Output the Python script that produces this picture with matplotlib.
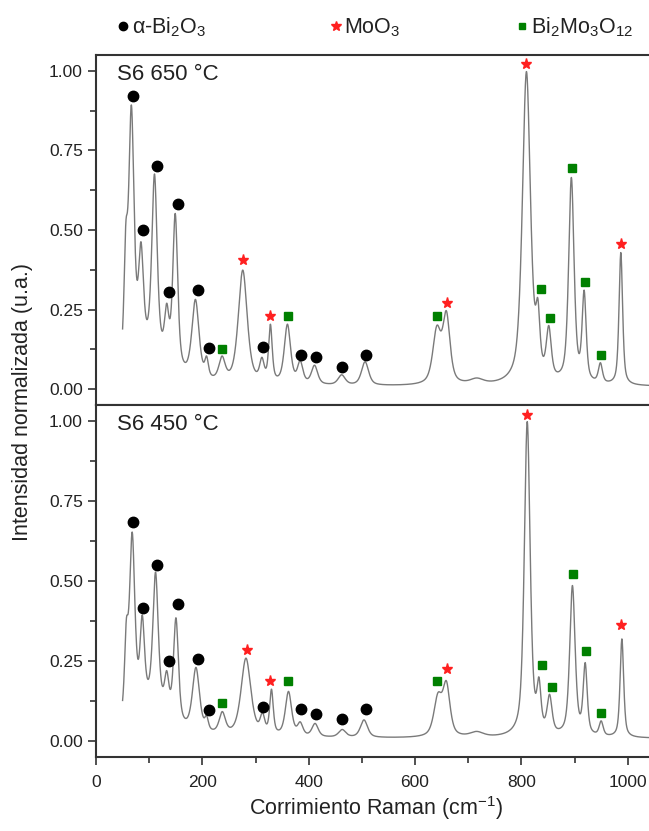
import numpy as np
import matplotlib
matplotlib.use("Agg")
import matplotlib.pyplot as plt
from matplotlib.lines import Line2D
from matplotlib.ticker import MultipleLocator

plt.rcParams['font.family'] = ['Liberation Sans', 'DejaVu Sans']
plt.rcParams['mathtext.fontset'] = 'custom'
plt.rcParams['mathtext.rm'] = 'Liberation Sans'
plt.rcParams['mathtext.it'] = 'Liberation Sans:italic'
plt.rcParams['mathtext.bf'] = 'Liberation Sans:bold'

# ---------------- data ----------------
panel_labels = ["S6 650 °C", "S6 450 °C"]

# Raman bands: centre (cm-1), observed height (normalised), half width (cm-1)
centers_650 = [56, 66.5, 84.6, 100, 110, 133, 149, 187, 208, 237, 276, 312, 328, 360, 384,
               411, 462, 506, 641, 659, 716, 809.5, 831, 851.5, 894, 918, 948.6, 987]
heights_650 = [0.52, 0.893, 0.463, 0.26, 0.676, 0.27, 0.552, 0.282, 0.104, 0.104, 0.374, 0.10,
               0.204, 0.204, 0.09, 0.075, 0.045, 0.086, 0.20, 0.246, 0.035, 0.998, 0.285,
               0.20, 0.665, 0.311, 0.083, 0.429]
widths_650 = [4.0, 6.0, 5.5, 40, 6.0, 5.0, 5.5, 8.0, 4.0, 7.0, 10, 5.0, 4.0, 7.0, 6.0,
              7.0, 8.0, 8.0, 9.0, 8.0, 15, 9.0, 4.5, 5.5, 6.0, 4.5, 4.5, 4.0]

centers_450 = [57, 68, 87, 100, 112, 133, 150.4, 188, 208, 237.5, 282, 313, 330, 362, 384,
               412, 463, 504, 643, 659, 716, 811, 833, 853, 896, 920, 950, 989]
heights_450 = [0.38, 0.653, 0.394, 0.20, 0.528, 0.22, 0.385, 0.23, 0.08, 0.092, 0.259, 0.09,
               0.162, 0.155, 0.06, 0.055, 0.036, 0.066, 0.151, 0.188, 0.03, 0.998, 0.20,
               0.146, 0.486, 0.245, 0.063, 0.319]
widths_450 = [4.0, 6.0, 5.0, 40, 6.0, 5.0, 5.5, 8.0, 4.0, 7.0, 11, 5.0, 4.0, 7.0, 6.0,
              7.0, 8.0, 8.0, 9.0, 8.0, 15, 6.5, 4.5, 5.5, 6.0, 4.5, 4.5, 4.0]

lorentz_fraction = 0.6
baseline = 0.008
x_start, x_end = 50, 1040

# Phase markers (x position, y position) for each panel
bi2o3_x_650 = [69, 88, 115, 136.6, 153.5, 191, 213, 315, 386, 414, 463, 507.5]
bi2o3_y_650 = [0.922, 0.50, 0.702, 0.305, 0.583, 0.311, 0.129, 0.132, 0.106, 0.100, 0.070, 0.107]
moo3_x_650 = [275.7, 328, 660.4, 809.5, 988]
moo3_y_650 = [0.406, 0.23, 0.27, 1.022, 0.455]
bmo_x_650 = [237.5, 361.5, 640.4, 836.5, 854.7, 894.7, 919, 950.5]
bmo_y_650 = [0.127, 0.229, 0.23, 0.314, 0.225, 0.695, 0.336, 0.106]

bi2o3_x_450 = [69.5, 88.3, 115, 136.6, 153.5, 191, 213, 315, 386, 414, 463, 507.5]
bi2o3_y_450 = [0.684, 0.417, 0.551, 0.25, 0.427, 0.255, 0.097, 0.106, 0.10, 0.083, 0.068, 0.10]
moo3_x_450 = [284.5, 328, 661, 810.8, 988]
moo3_y_450 = [0.284, 0.188, 0.225, 1.02, 0.364]
bmo_x_450 = [237.5, 361.5, 641, 839.6, 858.4, 898, 922.3, 950.5]
bmo_y_450 = [0.118, 0.186, 0.186, 0.239, 0.169, 0.523, 0.281, 0.086]

legend_labels = ['α-Bi$_2$O$_3$', 'MoO$_3$', 'Bi$_2$Mo$_3$O$_{12}$']


def band(d, w, eta):
    return eta / (1.0 + (d / w) ** 2) + (1 - eta) * np.exp(-np.log(2) * (d / w) ** 2)


def spectrum(x, centers, heights, widths, base, eta):
    c = np.asarray(centers, float)
    h = np.asarray(heights, float) - base
    w = np.asarray(widths, float)
    M = band(c[:, None] - c[None, :], w[None, :], eta)
    amp = np.clip(np.linalg.solve(M, h), 0, None)
    return base + (amp[None, :] * band(x[:, None] - c[None, :], w[None, :], eta)).sum(1)


x = np.arange(x_start, x_end + 0.25, 0.25)
spectra = [spectrum(x, centers_650, heights_650, widths_650, baseline, lorentz_fraction),
           spectrum(x, centers_450, heights_450, widths_450, baseline, lorentz_fraction)]
markers = [
    ((bi2o3_x_650, bi2o3_y_650), (moo3_x_650, moo3_y_650), (bmo_x_650, bmo_y_650)),
    ((bi2o3_x_450, bi2o3_y_450), (moo3_x_450, moo3_y_450), (bmo_x_450, bmo_y_450)),
]

# ---------------- figure ----------------
fig = plt.figure(figsize=(6.49, 8.31), dpi=100)
left, right = 96 / 649, 1.0
ax_top = fig.add_axes([left, 1 - 405 / 831, right - left, 350 / 831])
ax_bot = fig.add_axes([left, 1 - 757 / 831, right - left, 352 / 831], sharex=ax_top)

for i, ax in enumerate([ax_top, ax_bot]):
    ax.plot(x, spectra[i], color='#7a7a7a', lw=1.0, zorder=2)
    (bx, by), (mx, my), (gx, gy) = markers[i]
    ax.plot(bx, by, 'o', color='black', ms=7.5, ls='none', zorder=3)
    ax.plot(mx, my, '*', color='#ff2020', ms=8, ls='none', zorder=3)
    ax.plot(gx, gy, 's', color='#008000', ms=5.8, ls='none', zorder=3)
    ax.set_xlim(0, 1040)
    ax.set_ylim(-0.05, 1.05)
    ax.yaxis.set_major_locator(MultipleLocator(0.25))
    ax.yaxis.set_minor_locator(MultipleLocator(0.125))
    ax.yaxis.set_major_formatter(plt.FormatStrFormatter('%.2f'))
    ax.xaxis.set_major_locator(MultipleLocator(200))
    ax.xaxis.set_minor_locator(MultipleLocator(100))
    ax.tick_params(axis='both', which='major', direction='out', length=6, width=1.2,
                   labelsize=12.5, color='#333333', labelcolor='#222222')
    ax.tick_params(axis='both', which='minor', direction='out', length=4, width=1.2,
                   color='#333333')
    ax.tick_params(axis='y', which='both', right=False)
    ax.tick_params(axis='x', which='both', top=False)
    for s in ['left', 'top', 'bottom']:
        ax.spines[s].set_linewidth(1.5)
        ax.spines[s].set_color('#333333')
    ax.spines['right'].set_visible(False)
    ax.text(0.038, 0.975, panel_labels[i], transform=ax.transAxes, ha='left', va='top',
            fontsize=16, color='#222222')

ax_top.tick_params(axis='x', which='both', bottom=False, labelbottom=False)
ax_bot.tick_params(axis='x', pad=7)

fig.text(0.579, 0.028, 'Corrimiento Raman (cm$^{-1}$)', ha='center', va='center',
         fontsize=15.5, color='#222222')
fig.text(0.034, 0.516, 'Intensidad normalizada (u.a.)', ha='center', va='center',
         rotation=90, fontsize=15.5, color='#222222')

# legend row at the top (markers + labels placed in figure coordinates)
leg_marker_x = [123 / 649, 336 / 649, 522 / 649]
leg_text_x = [132 / 649, 344 / 649, 531 / 649]
leg_styles = [dict(marker='o', color='black', ms=6),
              dict(marker='*', color='#ff2020', ms=7),
              dict(marker='s', color='#008000', ms=5)]
marker_y = 1 - 26 / 831
text_base = 1 - 33 / 831
for mxp, txp, st, lab in zip(leg_marker_x, leg_text_x, leg_styles, legend_labels):
    fig.add_artist(Line2D([mxp], [marker_y], transform=fig.transFigure, ls='none', **st))
    fig.text(txp, text_base, lab, ha='left', va='baseline', fontsize=15.5, color='#222222')

fig.savefig('out.png', dpi=100)
